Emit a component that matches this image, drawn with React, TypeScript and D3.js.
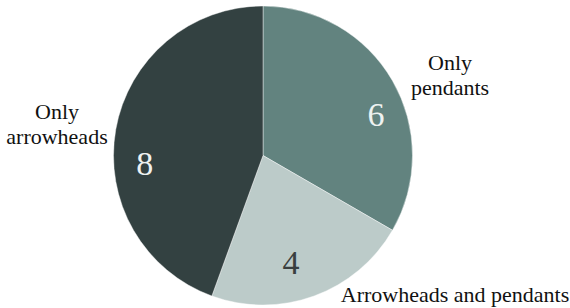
import React from "react";
import * as d3 from "d3";

const categories = ["Only pendants", "Arrowheads and pendants", "Only arrowheads"];
const values = [6, 4, 8];
const sliceColors = ["#62837f", "#bccbc9", "#334141"];
const numberColors = ["#eef2f1", "#3a3f3f", "#eef2f1"];

const W = 570;
const H = 308;
const cx = 263;
const cy = 155.5;
const R = 149.5;

const FONT = '"Liberation Serif", "DejaVu Serif", "Times New Roman", serif';

// nudges of the value labels from the arc centroid (layout, not data)
const valueNudge: [number, number][] = [
  [9, 18.5],
  [-13, -5.3],
  [0, 29.3],
];

// category label placements (layout)
const catLabelLayout = [
  { x: 450, y: 70, lines: ["Only", "pendants"] },
  { x: 455, y: 302, lines: ["Arrowheads and pendants"] },
  { x: 57, y: 119, lines: ["Only", "arrowheads"] },
];

export default function App() {
  const pie = d3
    .pie<number>()
    .sort(null)
    .value((d) => d)
    .startAngle(0)
    .endAngle(2 * Math.PI);
  const arcs = pie(values);
  const arc = d3.arc<d3.PieArcDatum<number>>().innerRadius(0).outerRadius(R);
  const labelArc = d3
    .arc<d3.PieArcDatum<number>>()
    .innerRadius(120)
    .outerRadius(120);

  return (
    <svg
      width={W}
      height={H}
      style={{ position: "absolute", left: 0, top: 0, fontFamily: FONT }}
    >
      <rect width={W} height={H} fill="#ffffff" />
      <g transform={`translate(${cx},${cy})`}>
        {arcs.map((a, i) => (
          <path
            key={i}
            d={arc(a) || ""}
            fill={sliceColors[i]}
            stroke="#ffffff"
            strokeWidth={0.6}
            strokeOpacity={0.7}
          />
        ))}
        {arcs.map((a, i) => {
          const [x, y] = labelArc.centroid(a);
          return (
            <text
              key={"v" + i}
              x={x + valueNudge[i][0]}
              y={y + valueNudge[i][1]}
              textAnchor="middle"
              dominantBaseline="central"
              style={{ fontFamily: FONT, fontSize: 34 }}
              fill={numberColors[i]}
            >
              {values[i]}
            </text>
          );
        })}
      </g>
      {catLabelLayout.map((l, i) => (
        <text
          key={"c" + i}
          x={l.x}
          y={l.y}
          textAnchor="middle"
          style={{ fontFamily: FONT, fontSize: 22 }}
          fill="#111111"
          aria-label={categories[i]}
        >
          {l.lines.map((ln, j) => (
            <tspan key={j} x={l.x} dy={j === 0 ? 0 : 25}>
              {ln}
            </tspan>
          ))}
        </text>
      ))}
    </svg>
  );
}
